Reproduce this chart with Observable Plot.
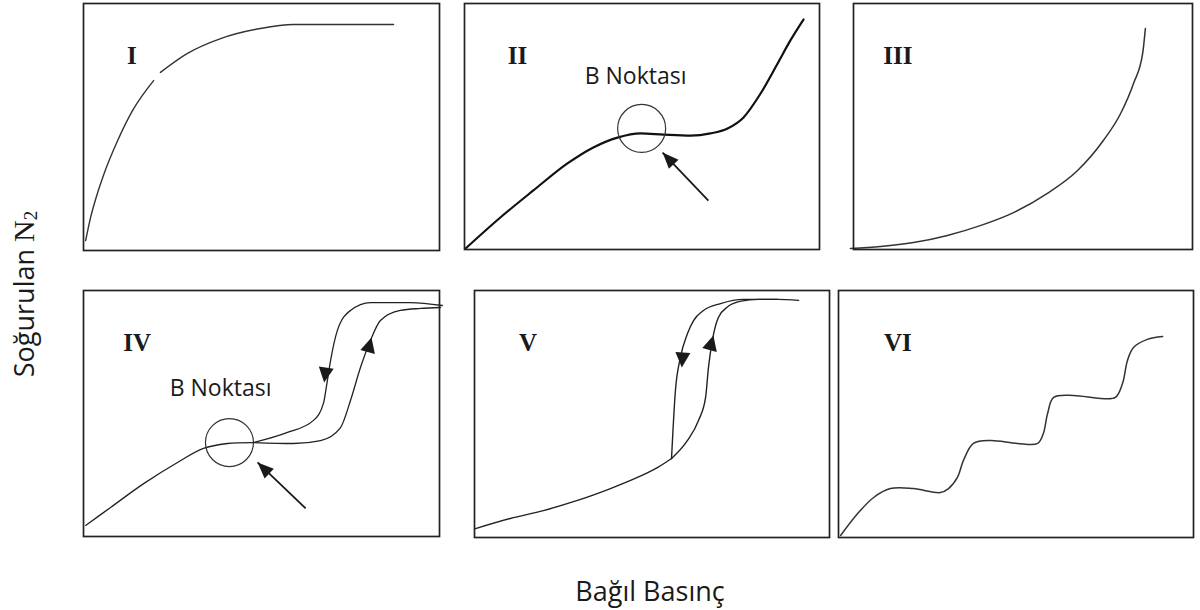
<!DOCTYPE html>
<html><head><meta charset="utf-8">
<script src="https://cdn.jsdelivr.net/npm/d3@7"></script>
<script src="https://cdn.jsdelivr.net/npm/@observablehq/plot@0.6"></script>
<style>
html,body{margin:0;padding:0;background:#fff;}
#root{position:relative;width:1200px;height:610px;overflow:hidden;background:#fff;}
.panel{position:absolute;}
.panel svg{overflow:visible;display:block;}
#ylab{position:absolute;left:23px;top:294px;transform:translate(-50%,-50%) rotate(-90deg);white-space:nowrap;font-family:"Open Sans";font-size:27px;color:#1a1a1a;}
#ylab .n{font-family:"Liberation Serif";font-size:30px;}
#ylab sub{font-size:19px;vertical-align:-3px;}
#xlab{position:absolute;left:650px;top:590px;transform:translate(-50%,-50%);font-family:"Open Sans";font-size:27px;color:#1a1a1a;white-space:nowrap;}
</style></head><body><div id="root"></div>
<script>
// ---- Data (relative pressure x, amount adsorbed y; both 0..1 within each panel) ----
const typeI = [[0.006,0.040],[0.020,0.134],[0.039,0.231],[0.056,0.304],[0.096,0.445],[0.138,0.567],[0.197,0.688]];
const typeI_b = [[0.216,0.721],[0.292,0.798],[0.385,0.858],[0.497,0.899],[0.590,0.915],[0.730,0.915],[0.871,0.915]];
const typeII = [[0.003,0.004],[0.101,0.130],[0.194,0.240],[0.290,0.350],[0.363,0.415],[0.431,0.455],[0.496,0.472],[0.561,0.467],[0.637,0.463],[0.693,0.472],[0.741,0.492],[0.786,0.537],[0.834,0.634],[0.882,0.756],[0.918,0.850],[0.955,0.935]];
const typeIII = [[-0.009,0.004],[0.080,0.012],[0.177,0.028],[0.277,0.057],[0.376,0.098],[0.472,0.150],[0.572,0.228],[0.661,0.321],[0.737,0.443],[0.788,0.553],[0.826,0.675],[0.853,0.797],[0.861,0.898]];
const typeIV_main = [[0.006,0.045],[0.076,0.118],[0.169,0.215],[0.264,0.301],[0.337,0.358],[0.404,0.378],[0.478,0.382]];
const typeIV_des = [[0.478,0.382],[0.573,0.423],[0.646,0.472],[0.674,0.541],[0.685,0.634],[0.694,0.715],[0.713,0.837],[0.750,0.919],[0.806,0.951],[0.919,0.951],[1.008,0.939]];
const typeIV_ads = [[0.478,0.382],[0.590,0.378],[0.666,0.390],[0.722,0.443],[0.750,0.553],[0.778,0.687],[0.806,0.797],[0.834,0.878],[0.890,0.919],[0.947,0.927],[1.003,0.931]];
const typeV_main = [[0.003,0.036],[0.101,0.077],[0.194,0.109],[0.290,0.150],[0.383,0.198],[0.459,0.243],[0.515,0.283],[0.555,0.320]];
const typeV_ads = [[0.555,0.320],[0.600,0.393],[0.631,0.474],[0.651,0.567],[0.659,0.688],[0.670,0.798],[0.687,0.891],[0.714,0.935],[0.751,0.957],[0.800,0.964],[0.854,0.964],[0.913,0.960]];
const typeV_des = [[0.555,0.320],[0.566,0.595],[0.580,0.729],[0.600,0.826],[0.617,0.878],[0.645,0.919],[0.693,0.947],[0.758,0.964],[0.854,0.964]];
const typeVI = [[0.006,0.008],[0.054,0.097],[0.099,0.162],[0.146,0.198],[0.211,0.198],[0.287,0.182],[0.310,0.198],[0.335,0.243],[0.352,0.312],[0.380,0.381],[0.428,0.393],[0.504,0.381],[0.561,0.381],[0.577,0.421],[0.589,0.502],[0.606,0.567],[0.662,0.575],[0.738,0.563],[0.780,0.567],[0.800,0.623],[0.814,0.717],[0.831,0.769],[0.870,0.802],[0.913,0.814]];

const panelNames = ["I","II","III","IV","V","VI"];
const bPointLabel = "B Noktası";
const xTitle = "Bağıl Basınç";
const yTitle = "Soğurulan";

// annotation anchors (panel units)
const circleII = [0.499,0.492], circleIV = [0.410,0.382];
const arrowII = {from:[0.687,0.199], to:[0.558,0.394]};
const arrowIV = {from:[0.624,0.114], to:[0.489,0.301]};
const headsIV = [{p:[0.676,0.626],rot:188},{p:[0.809,0.809],rot:15}];
const headsV = [{p:[0.584,0.688],rot:184},{p:[0.673,0.818],rot:15}];
const labelPos = [[0.122,0.757],[0.122,0.756],[0.088,0.756],[0.112,0.756],[0.125,0.757],[0.128,0.757]];
const bLabelII = [0.482,0.671], bLabelIV = [0.385,0.573];

// ---- Layout (pixels) ----
const layout = [
  {left:83, top:3, w:356, h:247},
  {left:464, top:3, w:355, h:246},
  {left:853, top:3, w:339, h:246},
  {left:83, top:290, w:356, h:246},
  {left:474, top:290, w:355, h:247},
  {left:838, top:290, w:355, h:247}
];

const head = {draw(ctx, size){const r=Math.sqrt(size/Math.PI);ctx.moveTo(0,0);ctx.lineTo(-r*0.95,r*2.3);ctx.lineTo(r*0.95,r*2.3);ctx.closePath();}};
const head2 = {draw(ctx, size){const r=Math.sqrt(size/Math.PI);ctx.moveTo(0,0);ctx.lineTo(-r,r*2);ctx.lineTo(r,r*2);ctx.closePath();}};
const X = d=>d[0], Y = d=>d[1];
const ink = "#1a1a1a";

function line(data, sw, color, curve){ return Plot.line(data,{x:X,y:Y,curve:curve||"monotone-x",stroke:color||"#222",strokeWidth:sw}); }
function label(i){ return Plot.text([panelNames[i]],{x:labelPos[i][0],y:labelPos[i][1],text:d=>d,textAnchor:"start",lineAnchor:"bottom",fontFamily:"Liberation Serif",fontWeight:"bold",fontSize:25,fill:ink}); }
function bLabel(p){ return Plot.text([bPointLabel],{x:p[0],y:p[1],text:d=>d,textAnchor:"middle",lineAnchor:"bottom",fontFamily:"Open Sans",fontSize:23,fill:ink}); }
function circ(p){ return Plot.dot([p],{x:X,y:Y,r:24,stroke:"#333",strokeWidth:1.2,fill:"none"}); }
function pointer(a, L){
  const dx=(a.to[0]-a.from[0])*L.w, dy=-(a.to[1]-a.from[1])*L.h;
  const rot=Math.atan2(dx,-dy)*180/Math.PI;
  return [
    Plot.link([a],{x1:d=>d.from[0],y1:d=>d.from[1],x2:d=>d.to[0],y2:d=>d.to[1],stroke:ink,strokeWidth:1.8}),
    Plot.dot([a.to],{x:X,y:Y,symbol:head,r:7,rotate:rot,fill:ink,stroke:"none"})
  ];
}
function heads(hs){ return Plot.dot(hs,{x:d=>d.p[0],y:d=>d.p[1],symbol:head2,r:7.5,rotate:d=>d.rot,fill:ink,stroke:"none"}); }

const panelMarks = [
  [line(typeI,1.4,"#333"), line(typeI_b,1.4,"#333"), label(0)],
  [line(typeII,2.2,"#111"), circ(circleII), ...pointer(arrowII, layout[1]), bLabel(bLabelII), label(1)],
  [line(typeIII,1.5,"#333"), label(2)],
  [line(typeIV_main,1.3,"#222","catmull-rom"), line(typeIV_des,1.3), line(typeIV_ads,1.3), circ(circleIV), ...pointer(arrowIV, layout[3]), heads(headsIV), bLabel(bLabelIV), label(3)],
  [line(typeV_main,1.4,"#222","catmull-rom"), line(typeV_des,1.4), line(typeV_ads,1.4), heads(headsV), label(4)],
  [line(typeVI,1.5,"#333","catmull-rom"), label(5)]
];

const root = document.getElementById("root");
layout.forEach((L,i)=>{
  const div=document.createElement("div");
  div.className="panel"; div.style.left=L.left+"px"; div.style.top=L.top+"px";
  const svg=Plot.plot({width:L.w,height:L.h,margin:0,
    x:{domain:[0,1],axis:null}, y:{domain:[0,1],axis:null},
    style:{overflow:"visible",background:"transparent"},
    marks:[...panelMarks[i], Plot.frame({stroke:"#222",strokeWidth:1.7})]});
  div.appendChild(svg); root.appendChild(div);
});
const yl=document.createElement("div"); yl.id="ylab";
yl.innerHTML=yTitle+' <span class="n">N<sub>2</sub></span>';
root.appendChild(yl);
const xl=document.createElement("div"); xl.id="xlab"; xl.textContent=xTitle; root.appendChild(xl);
</script></body></html>
